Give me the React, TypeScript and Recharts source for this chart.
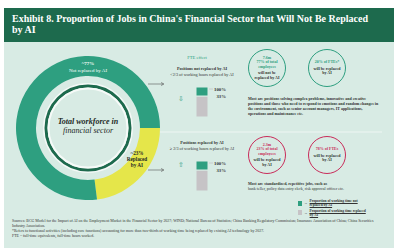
import React from 'react'
import { PieChart, Pie, Cell, BarChart, Bar, XAxis, YAxis } from 'recharts'

const workforce = [
  { name: 'Replaced by AI', value: 23 },
  { name: 'Not replaced by AI', value: 77 },
]
const notReplacedHours = [{ name: 'not', kept: 30, replaced: 70 }]
const replacedHours = [{ name: 'rep', kept: 30, replaced: 70 }]
const tickLabels = ['100%', '33%']

const GREEN = '#2e9f80'
const DARK = '#1d6a4d'
const YELLOW = '#e5e64a'
const GREY = '#c6c3c6'
const RED = '#c92c5a'
const BG = '#d8ebe4'
const serif = '"Liberation Serif", "DejaVu Serif", serif'

const abs = (x: number, y: number, extra: React.CSSProperties = {}): React.CSSProperties => ({
  position: 'absolute',
  left: x,
  top: y,
  ...extra,
})

const MiniBar = ({ data, x, y }: { data: any[]; x: number; y: number }) => (
  <div style={abs(x, y)}>
    <BarChart width={12} height={30} data={data} margin={{ top: 0, right: 0, left: 0, bottom: 0 }} barCategoryGap={0}>
      <XAxis dataKey="name" hide />
      <YAxis hide domain={[0, 100]} />
      <Bar dataKey="replaced" stackId="a" fill={GREY} stroke={BG} strokeWidth={1} isAnimationActive={false} />
      <Bar dataKey="kept" stackId="a" fill={GREEN} stroke={BG} strokeWidth={1} isAnimationActive={false} />
    </BarChart>
    <svg width={30} height={30} style={abs(12, 0)}>
      <line x1={1} y1={2} x2={5} y2={2} stroke={GREY} strokeWidth={0.8} />
    </svg>
    <div style={abs(16, -1, { fontSize: 4.8, color: '#333', fontFamily: serif, fontWeight: 700, lineHeight: '7px', textAlign: 'right', width: 14 })}>
      {tickLabels.map((t) => (
        <div key={t}>{t}</div>
      ))}
    </div>
  </div>
)

const Bubble = ({ x, y, color, lines }: { x: number; y: number; color: string; lines: { t: string; c?: boolean; b?: boolean }[] }) => (
  <div
    style={abs(x - 19, y - 19, {
      width: 38,
      height: 38,
      borderRadius: '50%',
      border: `1.3px solid ${color}`,
      boxSizing: 'border-box',
      display: 'flex',
      flexDirection: 'column',
      alignItems: 'center',
      justifyContent: 'center',
      fontFamily: serif,
      fontSize: 4,
      lineHeight: '4.4px',
      textAlign: 'center',
    })}
  >
    {lines.map((l, i) => (
      <div key={i} style={{ color: l.c ? color : '#333', fontWeight: l.b ? 700 : 400, marginTop: l.t === '' ? 2 : 0 }}>
        {l.t}
      </div>
    ))}
  </div>
)

const Arrow = ({ x, y, w }: { x: number; y: number; w: number }) => (
  <svg width={w + 4} height={6} style={abs(x, y - 3)}>
    <line x1={0} y1={3} x2={w} y2={3} stroke="#555" strokeWidth={0.6} />
    <path d={`M${w - 2},1.5 L${w + 1},3 L${w - 2},4.5`} fill="none" stroke="#555" strokeWidth={0.6} />
  </svg>
)

const small: React.CSSProperties = { fontFamily: serif, fontSize: 4.2, color: '#333', lineHeight: '5.5px' }

export default function App() {
  return (
    <div style={{ position: 'absolute', left: 0, top: 0, width: 394, height: 251, background: '#fff', overflow: 'hidden' }}>
      <div style={abs(4, 42, { width: 390, height: 206, background: BG })} />
      <div
        style={abs(4, 8, {
          width: 390,
          height: 34,
          background: DARK,
          color: '#fff',
          fontFamily: serif,
          fontWeight: 700,
          fontSize: 10,
          lineHeight: '11px',
          padding: '5px 8px',
          boxSizing: 'border-box',
        })}
      >
        Exhibit 8. Proportion of Jobs in China's Financial Sector that Will Not Be Replaced
        <br />
        by AI
      </div>

      {/* donut */}
      <div style={abs(8, 48)}>
        <PieChart width={160} height={160} margin={{ top: 0, right: 0, left: 0, bottom: 0 }}>
          <Pie
            data={workforce}
            dataKey="value"
            cx={80}
            cy={80}
            innerRadius={52}
            outerRadius={72}
            startAngle={0}
            endAngle={-360}
            stroke="none"
            isAnimationActive={false}
          >
            <Cell fill={YELLOW} />
            <Cell fill={GREEN} />
          </Pie>
        </PieChart>
      </div>
      <svg width={100} height={100} style={abs(38, 78)}>
        <circle cx={50} cy={50} r={44} fill="none" stroke="#f3f8f6" strokeWidth={2} />
        <circle cx={50} cy={50} r={42} fill="none" stroke={DARK} strokeWidth={3} />
        <circle cx={50} cy={50} r={39.5} fill="none" stroke="#f6faf8" strokeWidth={2} />
      </svg>
      <div style={abs(38, 117, { width: 100, textAlign: 'center', fontFamily: serif, fontStyle: 'italic', fontWeight: 700, fontSize: 8, lineHeight: '9px', color: '#1d2a26' })}>
        Total workforce in
        <br />
        <span style={{ fontWeight: 400 }}>financial sector</span>
      </div>
      <div style={abs(48, 61, { width: 80, textAlign: 'center', fontFamily: serif, color: '#fff', fontSize: 5, lineHeight: '6.5px' })}>
        <div style={{ fontWeight: 700 }}>~77%</div>
        <div>Not replaced by AI</div>
      </div>
      <div style={abs(122, 150, { width: 30, textAlign: 'center', fontFamily: serif, color: '#1d2a26', fontSize: 5.2, lineHeight: '6px', fontWeight: 700 })}>
        <div>~23%</div>
        <div>Replaced</div>
        <div>by AI</div>
      </div>

      {/* upper group */}
      <div style={abs(177, 55, { ...small, width: 40, textAlign: 'center', color: GREEN, fontSize: 4.6 })}>FTE effect</div>
      <div style={abs(158, 66, { ...small, width: 88, textAlign: 'center' })}>
        <div style={{ fontWeight: 700 }}>Positions not replaced by AI</div>
        <div>&lt;2/3 of working hours replaced by AI</div>
      </div>
      <Arrow x={148} y={84} w={15} />
      <MiniBar data={notReplacedHours} x={196} y={87} />
      <div style={abs(178, 96, { fontSize: 7, color: GREEN, lineHeight: '7px' })}>⇩</div>

      <Bubble
        x={267}
        y={68}
        color={GREEN}
        lines={[
          { t: '7.6m', c: true, b: true },
          { t: '77% of total', c: true, b: true },
          { t: 'employees', c: true, b: true },
          { t: '' },
          { t: 'will not be', b: true },
          { t: 'replaced by AI', b: true },
        ]}
      />
      <Bubble
        x={327}
        y={68}
        color={GREEN}
        lines={[{ t: '20% of FTEs*', c: true, b: true }, { t: '' }, { t: 'will be replaced', b: true }, { t: 'by AI', b: true }]}
      />
      <div style={abs(248, 96, { ...small, width: 132, fontSize: 4, lineHeight: '5px' })}>
        <b>Most are positions solving complex problems, innovative and creative positions and those who need to respond to emotions and random changes in the environment, such as senior account managers, IT applications, operations and maintenance etc.</b>
      </div>

      <svg width={230} height={4} style={abs(160, 130)}>
        <line x1={0} y1={2} x2={222} y2={2} stroke="#eef6f3" strokeWidth={1} />
      </svg>

      {/* lower group */}
      <div style={abs(158, 140, { ...small, width: 88, textAlign: 'center' })}>
        <div style={{ fontWeight: 700 }}>Positions replaced by AI</div>
        <div>≥ 2/3 of working hours replaced by AI</div>
      </div>
      <Arrow x={148} y={170} w={15} />
      <MiniBar data={replacedHours} x={196} y={161} />
      <div style={abs(178, 162, { fontSize: 7, color: GREEN, lineHeight: '7px' })}>⇧</div>

      <Bubble
        x={267}
        y={155}
        color={RED}
        lines={[
          { t: '2.3m', c: true, b: true },
          { t: '23% of total', c: true, b: true },
          { t: 'employees', c: true, b: true },
          { t: '' },
          { t: 'will be replaced', b: true },
          { t: 'by AI', b: true },
        ]}
      />
      <Bubble
        x={327}
        y={155}
        color={RED}
        lines={[{ t: '78% of FTEs', c: true, b: true }, { t: '' }, { t: 'will be replaced', b: true }, { t: 'by AI', b: true }]}
      />
      <div style={abs(248, 181, { ...small, width: 134, fontSize: 4, lineHeight: '5px' })}>
        <b>Most are standardized, repetitive jobs, such as</b>
        <br />
        bank teller, policy data entry clerk, risk approval officer etc.
      </div>

      {/* legend */}
      <div style={abs(298, 199, { ...small, fontSize: 3.6, lineHeight: '4px' })}>
        <div style={{ display: 'flex', alignItems: 'center', marginBottom: 1.5 }}>
          <div style={{ width: 4, height: 5, background: GREEN, marginRight: 2 }} />
          <span style={{ marginRight: 2 }}>→</span>
          <div style={{ width: 58, textDecoration: 'underline', fontWeight: 700 }}>Proportion of working time not replaced by AI</div>
        </div>
        <div style={{ display: 'flex', alignItems: 'center' }}>
          <div style={{ width: 4, height: 5, background: GREY, marginRight: 2 }} />
          <span style={{ marginRight: 2 }}>→</span>
          <div style={{ width: 58, textDecoration: 'underline', fontWeight: 700 }}>Proportion of working time replaced by AI</div>
        </div>
      </div>

      {/* sources */}
      <div style={abs(12, 219, { ...small, width: 372, fontSize: 3.9, lineHeight: '5px' })}>
        <div>
          Sources: BCG Model for the Impact of AI on the Employment Market in the Financial Sector by 2027; WIND; National Bureau of Statistics; China Banking Regulatory Commission; Insurance Association of China; China Securities Industry Association.
        </div>
        <div>*Refers to functional activities (including core functions) accounting for more than two-thirds of working time being replaced by existing AI technology by 2027.</div>
        <div>FTE = full-time equivalents, full-time hours worked.</div>
      </div>
    </div>
  )
}
